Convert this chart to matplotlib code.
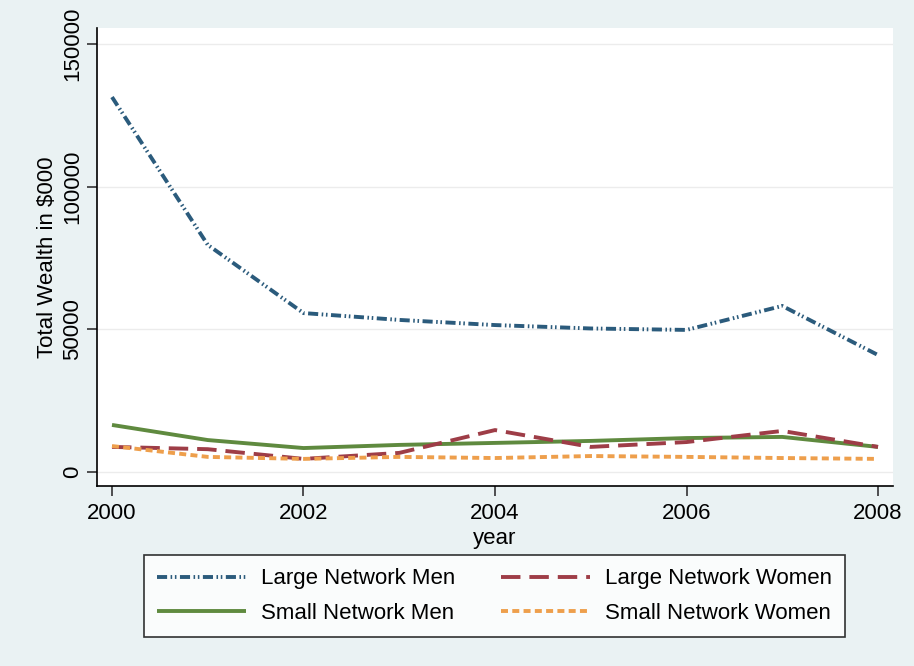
import matplotlib
matplotlib.use("Agg")
import matplotlib.pyplot as plt

years = [2000, 2001, 2002, 2003, 2004, 2005, 2006, 2007, 2008]
large_men = [131400, 79600, 55700, 53300, 51500, 50300, 49800, 58200, 41000]
large_women = [8800, 8000, 4600, 6700, 14700, 8800, 10500, 14400, 8800]
small_men = [16500, 11200, 8400, 9500, 10200, 10900, 11900, 12300, 8800]
small_women = [9100, 5300, 4600, 5300, 4900, 5600, 5300, 4900, 4600]

x_ticks = [2000, 2002, 2004, 2006, 2008]
y_ticks = [0, 50000, 100000, 150000]

plt.rcParams['font.family'] = ['Liberation Sans', 'DejaVu Sans']

bg = '#eaf2f3'
fig = plt.figure(figsize=(9.14, 6.66), dpi=100, facecolor=bg)
ax = fig.add_axes([97/914, 1-486/666, (893-97)/914, (486-28)/666])
ax.set_facecolor('white')

c_navy = '#2b5b7c'
c_maroon = '#9e3d47'
c_green = '#5f8a3f'
c_orange = '#ee9f4c'
lw = 2.8

ax.plot(years, large_men, color=c_navy, lw=lw, dashes=(2.6, 0.9, 0.4, 0.7, 0.4, 0.9),
        label='Large Network Men', zorder=3)
ax.plot(years, large_women, color=c_maroon, lw=lw, dashes=(5.0, 2.3),
        label='Large Network Women', zorder=3)
ax.plot(years, small_men, color=c_green, lw=lw, solid_capstyle='butt',
        label='Small Network Men', zorder=2)
ax.plot(years, small_women, color=c_orange, lw=lw, dashes=(1.8, 1.1),
        label='Small Network Women', zorder=3)

ax.set_xlim(2000 - 15/95.75, 2008 + 15/95.75)
ax.set_ylim(-4900, 155600)
ax.set_xticks(x_ticks)
ax.set_yticks(y_ticks)
ax.set_xticklabels([str(t) for t in x_ticks], fontsize=16)
ax.set_yticklabels([str(t) for t in y_ticks], fontsize=16)
for lab in ax.get_yticklabels():
    lab.set_rotation(90)
    lab.set_va('center')

ax.grid(axis='y', color='#ececec', lw=1.0, zorder=0)
ax.set_axisbelow(True)
for s in ['top', 'right']:
    ax.spines[s].set_visible(False)
for s in ['left', 'bottom']:
    ax.spines[s].set_color('black')
    ax.spines[s].set_linewidth(1.2)
ax.tick_params(direction='out', length=7, width=1.2, color='#333333')
ax.tick_params(axis='y', pad=3)
ax.tick_params(axis='x', pad=5)

ax.set_xlabel('year', fontsize=16, labelpad=3)
ax.set_ylabel('Total Wealth in \\$000', fontsize=16, labelpad=3)

handles, labels = ax.get_legend_handles_labels()
order = [0, 2, 1, 3]
leg = fig.legend([handles[i] for i in order], [labels[i] for i in order],
                 loc='center', bbox_to_anchor=(494.5/914, 1-596/666),
                 ncol=2, fontsize=16, handlelength=4.0, columnspacing=2.1,
                 handletextpad=0.65, borderaxespad=0.0, frameon=True, fancybox=False,
                 labelspacing=0.6, borderpad=0.6)
leg.get_frame().set_edgecolor('black')
leg.get_frame().set_linewidth(1.2)
leg.get_frame().set_facecolor('white')

fig.savefig('out.png', dpi=100, facecolor=bg)
